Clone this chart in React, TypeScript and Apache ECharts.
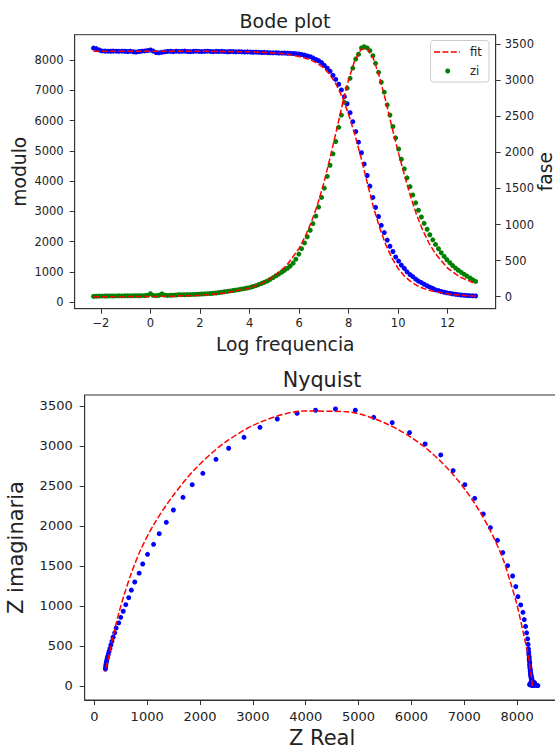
import React, { useEffect, useRef } from "react";
import * as echarts from "echarts";

// ---- data ----
const logFreq = [
  -2.3, -2.19, -2.07, -1.96, -1.84, -1.73, -1.61, -1.5, -1.38, -1.27,
  -1.15, -1.04, -0.92, -0.81, -0.69, -0.58, -0.46, -0.35, -0.23, -0.12,
  0.0, 0.11, 0.23, 0.34, 0.46, 0.58, 0.69, 0.81, 0.92, 1.04,
  1.15, 1.27, 1.38, 1.5, 1.61, 1.73, 1.84, 1.96, 2.07, 2.19,
  2.3, 2.42, 2.53, 2.65, 2.76, 2.88, 2.99, 3.11, 3.22, 3.34,
  3.45, 3.57, 3.68, 3.8, 3.91, 4.03, 4.14, 4.26, 4.37, 4.49,
  4.6, 4.72, 4.83, 4.95, 5.07, 5.18, 5.3, 5.41, 5.53, 5.64,
  5.76, 5.87, 5.99, 6.1, 6.22, 6.33, 6.45, 6.56, 6.68, 6.79,
  6.91, 7.02, 7.14, 7.25, 7.37, 7.48, 7.6, 7.71, 7.83, 7.94,
  8.06, 8.17, 8.29, 8.4, 8.52, 8.63, 8.75, 8.86, 8.98, 9.09,
  9.21, 9.32, 9.44, 9.56, 9.67, 9.79, 9.9, 10.02, 10.13, 10.25,
  10.36, 10.48, 10.59, 10.71, 10.82, 10.94, 11.05, 11.17, 11.28, 11.4,
  11.51, 11.63, 11.74, 11.86, 11.97, 12.09, 12.2, 12.32, 12.43, 12.55,
  12.67, 12.78, 12.9, 13.01, 13.13,
];

const zReal = [
  8393, 8375, 8330, 8300, 8292, 8290, 8288, 8292, 8290, 8286,
  8290, 8288, 8280, 8290, 8272, 8262, 8280, 8290, 8300, 8312,
  8330, 8295, 8245, 8236, 8255, 8270, 8282, 8288, 8276, 8290,
  8282, 8286, 8292, 8280, 8276, 8284, 8290, 8282, 8278, 8284,
  8290, 8282, 8276, 8284, 8280, 8286, 8278, 8272, 8280, 8276,
  8268, 8274, 8270, 8262, 8268, 8262, 8256, 8260, 8254, 8248,
  8252, 8244, 8240, 8236, 8240, 8232, 8228, 8230, 8222, 8218,
  8214, 8208, 8200, 8180, 8160, 8135, 8110, 8068, 8015, 7975,
  7915, 7820, 7729, 7628, 7494, 7359, 7198, 7011, 6789, 6555,
  6260, 5964, 5636, 5287, 4938, 4563, 4186, 3837, 3462, 3134,
  2832, 2542, 2302, 2053, 1852, 1678, 1496, 1362, 1228, 1121,
  1007, 915, 848, 765, 700, 651, 595, 547, 500, 462,
  413, 386, 356, 333, 313, 296, 279, 265, 251, 241,
  231, 224, 218, 214, 210,
];

const zImag = [
  5, 6, 8, 9, 10, 10, 11, 10, 11, 12,
  11, 12, 13, 12, 13, 14, 13, 14, 16, 20,
  42, 18, 14, 20, 40, 22, 18, 20, 21, 24,
  30, 28, 27, 29, 30, 32, 33, 35, 38, 40,
  42, 45, 48, 52, 57, 62, 69, 74, 80, 86,
  92, 98, 106, 113, 121, 130, 141, 153, 168, 185,
  200, 218, 240, 265, 290, 315, 340, 365, 393, 425,
  465, 520, 590, 665, 745, 830, 921, 1013, 1117, 1242,
  1375, 1504, 1667, 1821, 1979, 2150, 2346, 2516, 2692, 2888,
  3025, 3167, 3292, 3358, 3446, 3462, 3446, 3408, 3337, 3233,
  3108, 2971, 2833, 2658, 2516, 2358, 2200, 2046, 1904, 1771,
  1646, 1525, 1410, 1300, 1198, 1104, 1016, 934, 858, 788,
  724, 664, 609, 558, 512, 470, 432, 397, 366, 337,
  310, 285, 260, 236, 212,
];

const fitLogFreq = [
  -2.3, -1, 0, 1, 2, 3, 4, 4.5, 5, 5.5, 6, 6.25, 6.5, 6.75, 7, 7.25, 7.5, 7.75,
  8, 8.25, 8.5, 8.75, 9, 9.25, 9.5, 9.75, 10, 10.25, 10.5, 10.75, 11, 11.25, 11.5,
  12, 12.5, 13.13,
];
const fitReal = [
  8290, 8290, 8289, 8288, 8287, 8282, 8269, 8255, 8234, 8195, 8115, 8060, 7990, 7880,
  7740, 7510, 7190, 6760, 6210, 5540, 4780, 3960, 3149, 2472, 1906, 1458, 1118, 868,
  690, 560, 465, 398, 347, 282, 238, 200,
];
const fitImag = [
  0, 1, 3, 8, 20, 50, 120, 185, 285, 435, 670, 835, 1035, 1280, 1575, 1920, 2290, 2665,
  3007, 3274, 3427, 3436, 3300, 3044, 2712, 2350, 2010, 1690, 1390, 1130, 915, 740, 598,
  395, 272, 182,
];

const bodeXTicks = [-2, 0, 2, 4, 6, 8, 10, 12];
const moduloTicks = [0, 1000, 2000, 3000, 4000, 5000, 6000, 7000, 8000];
const faseTicks = [0, 500, 1000, 1500, 2000, 2500, 3000, 3500];
const nyqXTicks = [0, 1000, 2000, 3000, 4000, 5000, 6000, 7000, 8000];
const nyqYTicks = [0, 500, 1000, 1500, 2000, 2500, 3000, 3500];

const FONT = "DejaVu Sans";
const LINE = "#333333";
const TEXT = "#222222";
const BLUE = "#0000ff";
const GREEN = "#008000";
const RED = "#ff0000";

const fmt = (v: number) => (v < 0 ? "\u2212" + Math.abs(v) : String(v));

function makeAxis(o: any) {
  return {
    type: "value",
    gridIndex: o.grid,
    position: o.position,
    min: o.min,
    max: o.max,
    name: o.name,
    nameLocation: "middle",
    nameGap: o.nameGap,
    nameMoveOverlap: false,
    nameTextStyle: {
      fontSize: o.nameSize,
      lineHeight: o.nameSize,
      color: TEXT,
      fontFamily: FONT,
    },
    axisLine: { show: true, onZero: false, lineStyle: { color: LINE, width: 1 } },
    axisTick: {
      show: true,
      inside: false,
      length: 5,
      customValues: o.ticks,
      lineStyle: { color: LINE, width: 1 },
    },
    axisLabel: {
      show: true,
      customValues: o.ticks,
      formatter: fmt,
      fontSize: o.labelSize,
      lineHeight: o.labelSize,
      margin: o.margin,
      color: TEXT,
      fontFamily: FONT,
    },
    splitLine: { show: false },
  };
}

export default function App() {
  const ref = useRef<HTMLDivElement>(null);

  useEffect(() => {
    if (!ref.current) return;
    const chart = echarts.init(ref.current, null, { renderer: "svg" });

    const dashed = { color: RED, width: 1.5, type: [6, 2.4] as any };
    const dot = (c: string) => ({ color: c, opacity: 1 });

    const option: any = {
      animation: false,
      backgroundColor: "#ffffff",
      grid: [
        {
          left: 74.7,
          top: 34.7,
          width: 421,
          height: 274,
          show: true,
          borderColor: LINE,
          borderWidth: 1,
          backgroundColor: "transparent",
          containLabel: false,
          outerBoundsMode: "none",
        },
        {
          left: 84.7,
          top: 395,
          width: 474.8,
          height: 305,
          show: true,
          borderColor: LINE,
          borderWidth: 1,
          backgroundColor: "transparent",
          containLabel: false,
          outerBoundsMode: "none",
        },
      ],
      xAxis: [
        makeAxis({
          grid: 0, position: "bottom", min: -3.06, max: 13.94, ticks: bodeXTicks,
          name: "Log frequencia", nameGap: 26, nameSize: 18.7, labelSize: 11.5, margin: 9,
        }),
        makeAxis({
          grid: 1, position: "bottom", min: -182, max: 8802, ticks: nyqXTicks,
          name: "Z Real", nameGap: 27.5, nameSize: 21, labelSize: 13, margin: 10,
        }),
      ],
      yAxis: [
        makeAxis({
          grid: 0, position: "left", min: -211, max: 8835, ticks: moduloTicks,
          name: "modulo", nameGap: 46, nameSize: 18.7, labelSize: 11.5, margin: 11,
        }),
        makeAxis({
          grid: 0, position: "right", min: -166, max: 3629, ticks: faseTicks,
          name: "fase", nameGap: 40, nameSize: 18.7, labelSize: 11.5, margin: 9,
        }),
        makeAxis({
          grid: 1, position: "left", min: -175, max: 3637, ticks: nyqYTicks,
          name: "Z imaginaria", nameGap: 58.5, nameSize: 21, labelSize: 13, margin: 12,
        }),
      ],
      series: [
        {
          name: "fit modulo",
          type: "line",
          xAxisIndex: 0,
          yAxisIndex: 0,
          data: fitLogFreq.map((x, i) => [x, fitReal[i]]),
          symbol: "none",
          showSymbol: false,
          lineStyle: dashed,
          silent: true,
        },
        {
          name: "zr",
          type: "scatter",
          xAxisIndex: 0,
          yAxisIndex: 0,
          data: logFreq.map((x, i) => [x, zReal[i]]),
          symbolSize: 5,
          itemStyle: dot(BLUE),
          silent: true,
        },
        {
          name: "fit",
          type: "line",
          xAxisIndex: 0,
          yAxisIndex: 1,
          data: fitLogFreq.map((x, i) => [x, fitImag[i]]),
          symbol: "none",
          showSymbol: false,
          lineStyle: dashed,
          silent: true,
        },
        {
          name: "zi",
          type: "scatter",
          xAxisIndex: 0,
          yAxisIndex: 1,
          data: logFreq.map((x, i) => [x, zImag[i]]),
          symbolSize: 5,
          itemStyle: dot(GREEN),
          silent: true,
        },
        {
          name: "Nyquist data",
          type: "scatter",
          xAxisIndex: 1,
          yAxisIndex: 2,
          data: zReal.map((x, i) => [x, zImag[i]]),
          symbolSize: 5,
          itemStyle: dot(BLUE),
          silent: true,
        },
        {
          name: "Nyquist fit",
          type: "line",
          xAxisIndex: 1,
          yAxisIndex: 2,
          data: fitReal.map((x, i) => [x, fitImag[i]]),
          symbol: "none",
          showSymbol: false,
          smooth: 0.3,
          lineStyle: dashed,
          silent: true,
        },
      ],
      graphic: [
        {
          type: "text",
          x: 285,
          y: 20.7,
          z: 100,
          style: {
            text: "Bode plot",
            fontSize: 19,
            fontFamily: FONT,
            fill: TEXT,
            align: "center",
            verticalAlign: "middle",
          },
        },
        {
          type: "text",
          x: 322,
          y: 379.7,
          z: 100,
          style: {
            text: "Nyquist",
            fontSize: 20.7,
            fontFamily: FONT,
            fill: TEXT,
            align: "center",
            verticalAlign: "middle",
          },
        },
        {
          type: "rect",
          z: 100,
          shape: { x: 430.5, y: 40.5, width: 58.5, height: 41.5, r: 3 },
          style: { fill: "rgba(255,255,255,0.8)", stroke: "#cccccc", lineWidth: 1 },
        },
        {
          type: "line",
          z: 101,
          shape: { x1: 434, y1: 52, x2: 460, y2: 52 },
          style: { stroke: RED, lineWidth: 1.5, lineDash: [6, 2.4] },
        },
        {
          type: "circle",
          z: 101,
          shape: { cx: 447.7, cy: 71, r: 2.5 },
          style: { fill: GREEN },
        },
        {
          type: "text",
          x: 470,
          y: 52,
          z: 101,
          style: {
            text: "fit",
            fontSize: 11.5,
            fontFamily: FONT,
            fill: TEXT,
            align: "left",
            verticalAlign: "middle",
          },
        },
        {
          type: "text",
          x: 470,
          y: 71,
          z: 101,
          style: {
            text: "zi",
            fontSize: 11.5,
            fontFamily: FONT,
            fill: TEXT,
            align: "left",
            verticalAlign: "middle",
          },
        },
      ],
    };

    chart.setOption(option);
    return () => {
      chart.dispose();
    };
  }, []);

  return (
    <div
      ref={ref}
      style={{
        position: "absolute",
        left: 0,
        top: 0,
        width: 555,
        height: 749,
        background: "#ffffff",
      }}
    />
  );
}
